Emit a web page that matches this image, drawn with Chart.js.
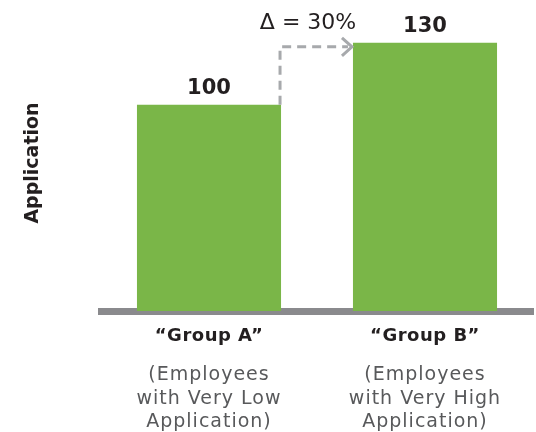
<!DOCTYPE html>
<html><head><meta charset="utf-8">
<script src="https://cdn.jsdelivr.net/npm/chart.js@4"></script>
<style>html,body{margin:0;padding:0;background:#fff}#wrap{width:536px;height:432px}</style>
</head><body><div id="wrap"><canvas id="c"></canvas></div>
<script>
const categories = ['\u201CGroup A\u201D', '\u201CGroup B\u201D'];
const subLabels = [
  ['(Employees', 'with Very Low', 'Application)'],
  ['(Employees', 'with Very High', 'Application)']
];
const values = [100, 130];
const valueLabels = ['100', '130'];
const deltaLabel = '\u0394 = 30%';
const yTitle = 'Application';

const FONT = '"DejaVu Sans", sans-serif';

const overlay = {
  id: 'overlay',
  afterDraw(chart) {
    const ctx = chart.ctx;
    const meta = chart.getDatasetMeta(0);
    const xs = chart.scales.x;
    const bottom = chart.chartArea.bottom;
    ctx.save();
    ctx.textAlign = 'center';
    ctx.textBaseline = 'alphabetic';
    // value labels
    ctx.fillStyle = '#231f20';
    ctx.font = 'bold 21px ' + FONT;
    meta.data.forEach((bar, i) => {
      ctx.fillText(valueLabels[i], bar.x, bar.y - 11);
    });
    // category labels
    categories.forEach((c, i) => {
      const x = xs.getPixelForValue(i);
      ctx.fillStyle = '#231f20';
      ctx.font = 'bold 18px ' + FONT;
      ctx.letterSpacing = '0.5px';
      ctx.fillText(c, x, bottom + 30);
      ctx.fillStyle = '#58595b';
      ctx.font = '19px ' + FONT;
      ctx.letterSpacing = '1px';
      subLabels[i].forEach((s, j) => {
        ctx.fillText(s, x, bottom + 69 + j * 23.5);
      });
      ctx.letterSpacing = '0px';
    });
    // delta annotation
    const a = meta.data[0], b = meta.data[1];
    const x0 = a.x + a.width / 2 - 1;
    const y0 = a.y;
    const yh = b.y + 4;
    const x1 = b.x - b.width / 2 - 1;
    ctx.strokeStyle = '#a7a9ac';
    ctx.lineWidth = 3;
    ctx.setLineDash([9, 6]);
    ctx.beginPath();
    ctx.moveTo(x0, y0);
    ctx.lineTo(x0, yh);
    ctx.lineTo(x1 - 4, yh);
    ctx.stroke();
    ctx.setLineDash([]);
    ctx.beginPath();
    ctx.moveTo(x1 - 10, yh - 9);
    ctx.lineTo(x1, yh);
    ctx.lineTo(x1 - 10, yh + 9);
    ctx.stroke();
    ctx.fillStyle = '#231f20';
    ctx.font = '22px ' + FONT;
    ctx.fillText(deltaLabel, x0 + 28, 29);
    ctx.restore();
  }
};

new Chart(document.getElementById('c'), {
  type: 'bar',
  data: {
    labels: categories,
    datasets: [{
      data: values,
      backgroundColor: '#7ab648',
      borderWidth: 0,
      barPercentage: 0.667,
      categoryPercentage: 1
    }]
  },
  options: {
    responsive: true,
    maintainAspectRatio: false,
    animation: false,
    events: [],
    layout: { padding: { left: 10, right: 3, top: 15, bottom: 121 } },
    plugins: { legend: { display: false }, tooltip: { enabled: false } },
    scales: {
      x: {
        z: 1,
        ticks: { display: false },
        grid: { color: 'transparent', drawTicks: false },
        border: { color: '#8a8a8d', width: 7 }
      },
      y: {
        min: 0,
        max: 143.5,
        ticks: { display: false },
        grid: { display: false, drawTicks: false },
        border: { display: false },
        title: {
          display: true,
          text: yTitle,
          color: '#231f20',
          font: { family: FONT, size: 19, weight: 'bold' },
          padding: { top: 11.6, bottom: 56.6 }
        }
      }
    }
  },
  plugins: [overlay]
});
</script>
</body></html>
